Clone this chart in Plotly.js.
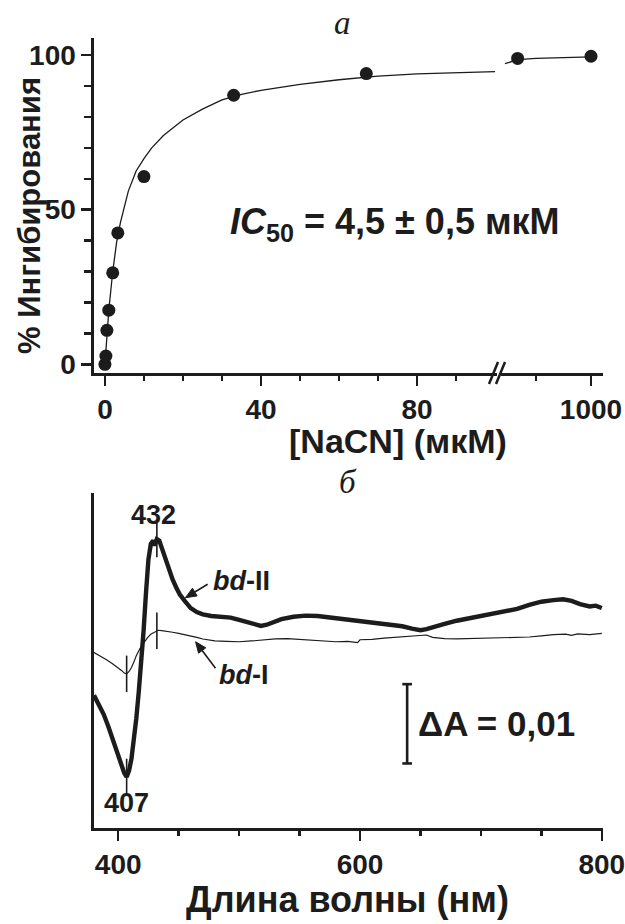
<!DOCTYPE html>
<html>
<head>
<meta charset="utf-8">
<script src="https://cdn.plot.ly/plotly-3.0.1.min.js"></script>
<style>html,body{margin:0;padding:0;background:#fff;}#chart{width:625px;height:924px;}</style>
</head>
<body>
<div id="chart"></div>
<script>
// ---------- Panel a: inhibition by NaCN ----------
const concLow = [0, 0.25, 0.5, 1, 2, 3.3, 10, 33, 67];          // мкМ
const inhibLow = [0, 2.7, 11, 17.5, 29.6, 42.5, 60.7, 87, 94];   // %
const concHigh = [333, 1000];
const inhibHigh = [98.9, 99.6];
const fitConcLow = [0, 0.5, 1, 2, 3, 4, 5, 6, 8, 10, 12, 15, 20, 25, 30, 35, 40, 50, 60, 70, 80, 90, 100];
const fitInhibLow = [0, 9, 17.5, 30, 39.5, 46, 51.5, 56, 62.5, 66.5, 70, 74, 79, 82.5, 85.5, 87.3, 88.6, 90.5, 92, 93.2, 93.9, 94.3, 94.6];
const fitConcHigh = [218, 333, 500, 700, 1000];
const fitInhibHigh = [97.2, 98.5, 98.9, 99.1, 99.4];
const xTicksLow = [0, 40, 80];
const xMinorLow = [10, 20, 30, 50, 60, 70, 90];
const xTicksHigh = [1000];
const xMinorHigh = [500];
const yTicksA = [0, 50, 100];

// ---------- Panel б: difference spectra (ΔA × 10^3) ----------
const wlII = [380,384,388,392,396,400,403,405,407,409,411,413,415,417,419,421,423,425,427,429,430,431,432,434,436,438,440,442,445,448,451,455,460,465,470,477,485,493,500,507,513,518,523,528,535,545,555,565,575,585,595,605,615,625,635,643,650,655,660,670,680,690,700,710,720,730,740,750,760,768,775,782,790,795,800];
const dAII = [-7.6,-8.8,-10.0,-11.6,-13.4,-15.2,-16.6,-17.4,-17.9,-17.1,-15.6,-13.3,-10.5,-7.2,-3.9,0.5,5.3,9.5,11.5,11.9,11.3,11.8,12.1,11.9,11.0,10.0,9.0,8.1,7.0,6.0,5.1,4.3,3.4,2.9,2.6,2.4,2.3,2.2,1.9,1.6,1.3,1.15,1.3,1.6,2.0,2.3,2.45,2.4,2.2,2.0,1.8,1.6,1.45,1.3,1.1,0.8,0.6,0.75,1.0,1.4,1.8,2.1,2.4,2.6,2.9,3.3,3.8,4.2,4.4,4.5,4.3,3.9,3.6,3.7,3.4];
const wlI = [380,385,390,395,400,403,405,407,409,411,413,415,418,421,424,427,430,433,436,440,445,450,455,460,465,470,475,480,490,500,510,520,530,540,550,560,570,580,590,598,600,610,620,630,640,650,655,660,670,680,690,700,710,720,730,740,750,760,770,775,780,790,800];
const dAI = [-2.2,-2.6,-3.1,-3.6,-4.1,-4.5,-4.8,-4.9,-4.6,-4.1,-3.4,-2.6,-1.7,-1.0,-0.4,0.1,0.4,0.6,0.55,0.5,0.35,0.2,0.05,-0.1,-0.3,-0.5,-0.65,-0.75,-0.8,-0.85,-0.75,-0.6,-0.5,-0.45,-0.55,-0.7,-0.8,-0.85,-0.8,-0.95,-0.6,-0.55,-0.4,-0.3,-0.2,-0.05,0.0,-0.3,-0.45,-0.5,-0.45,-0.4,-0.4,-0.35,-0.3,-0.25,-0.1,0.05,0.1,-0.05,0.15,0.05,0.2];
const peakWl = [407, 432];
const scaleBar = 10;   // ΔA = 0,01
const xTicksB = [400, 600, 800];

// ---------- helpers ----------
const W = 625, H = 924;
const px = v => v / W;
const py = v => 1 - v / H;
function interp(xs, ys, x) {
  for (let i = 0; i < xs.length - 1; i++) {
    if (x >= xs[i] && x <= xs[i + 1]) {
      const t = (x - xs[i]) / (xs[i + 1] - xs[i]);
      return ys[i] + t * (ys[i + 1] - ys[i]);
    }
  }
  return ys[ys.length - 1];
}
// panel б frame (pixels) and ranges, used to build arrowheads
const B = {x0: 94, x1: 603, y0: 493, y1: 828, xr: [380, 801], yr: [-24.34, 17.91]};
const toPx = (x, y) => [B.x0 + (x - B.xr[0]) / (B.xr[1] - B.xr[0]) * (B.x1 - B.x0),
                        B.y1 - (y - B.yr[0]) / (B.yr[1] - B.yr[0]) * (B.y1 - B.y0)];
const toData = (X, Y) => [B.xr[0] + (X - B.x0) / (B.x1 - B.x0) * (B.xr[1] - B.xr[0]),
                          B.yr[0] + (B.y1 - Y) / (B.y1 - B.y0) * (B.yr[1] - B.yr[0])];
function arrow(tail, tip) {
  const [tx, ty] = toPx(tail[0], tail[1]);
  const [hx, hy] = toPx(tip[0], tip[1]);
  const L = Math.hypot(hx - tx, hy - ty), ux = (hx - tx) / L, uy = (hy - ty) / L;
  const len = 11, hw = 4.5;
  const bx = hx - ux * len, by = hy - uy * len;
  const p1 = toData(bx - uy * hw, by + ux * hw), p2 = toData(bx + uy * hw, by - ux * hw);
  const base = toData(bx, by);
  return [
    {type: 'line', xref: 'x3', yref: 'y3', x0: tail[0], y0: tail[1], x1: base[0], y1: base[1], line: {color: INK, width: 1.6}},
    {type: 'path', xref: 'x3', yref: 'y3', path: `M ${tip[0]} ${tip[1]} L ${p1[0]} ${p1[1]} L ${p2[0]} ${p2[1]} Z`,
     fillcolor: INK, line: {color: INK, width: 1}}
  ];
}

const FONT = 'Liberation Sans, Arial, sans-serif';
const INK = '#1c1c1c';
const tickFont = {family: FONT, size: 28, color: INK, weight: 'bold'};

const traces = [
  {x: fitConcLow, y: fitInhibLow, xaxis: 'x', yaxis: 'y', mode: 'lines', line: {color: INK, width: 1.3}, hoverinfo: 'skip'},
  {x: fitConcHigh, y: fitInhibHigh, xaxis: 'x2', yaxis: 'y', mode: 'lines', line: {color: INK, width: 1.3}, hoverinfo: 'skip'},
  {x: concLow, y: inhibLow, xaxis: 'x', yaxis: 'y', mode: 'markers', marker: {color: INK, size: 13}, cliponaxis: false},
  {x: concHigh, y: inhibHigh, xaxis: 'x2', yaxis: 'y', mode: 'markers', marker: {color: INK, size: 13}, cliponaxis: false},
  {x: wlI, y: dAI, xaxis: 'x3', yaxis: 'y3', mode: 'lines', line: {color: INK, width: 1.2}, name: 'bd-I'},
  {x: wlII, y: dAII, xaxis: 'x3', yaxis: 'y3', mode: 'lines', line: {color: INK, width: 4.4}, name: 'bd-II'}
];

const shapes = [];
// axis break marks "//"
shapes.push({type: 'line', xref: 'paper', yref: 'paper', x0: px(489), y0: py(384), x1: px(498), y1: py(362), line: {color: INK, width: 2.5}});
shapes.push({type: 'line', xref: 'paper', yref: 'paper', x0: px(496), y0: py(384), x1: px(505), y1: py(362), line: {color: INK, width: 2.5}});
// peak marks on the spectra
[[wlI, dAI], [wlII, dAII]].forEach(([xs, ys]) => {
  peakWl.forEach(w => {
    const v = interp(xs, ys, w);
    shapes.push({type: 'line', xref: 'x3', yref: 'y3', x0: w, x1: w, y0: v - 2.3, y1: v + 2.3, line: {color: INK, width: 1.6}});
  });
});
// scale bar ΔA = 0,01
const sbX = 639, sbTop = -6.2;
shapes.push({type: 'line', xref: 'x3', yref: 'y3', x0: sbX, x1: sbX, y0: sbTop, y1: sbTop - scaleBar, line: {color: INK, width: 2.6}});
shapes.push({type: 'line', xref: 'x3', yref: 'y3', x0: sbX - 4, x1: sbX + 4, y0: sbTop, y1: sbTop, line: {color: INK, width: 2.6}});
shapes.push({type: 'line', xref: 'x3', yref: 'y3', x0: sbX - 4, x1: sbX + 4, y0: sbTop - scaleBar, y1: sbTop - scaleBar, line: {color: INK, width: 2.6}});
// arrows from the labels to the curves
shapes.push(...arrow([474, 6.4], [455.6, 4.7]));
shapes.push(...arrow([480.5, -4.2], [464, -0.85]));

const annotations = [
  {xref: 'paper', yref: 'paper', x: px(342), y: py(23), text: 'а', showarrow: false,
   font: {family: 'Liberation Serif, Times New Roman, serif', size: 33, color: INK, style: 'italic'}, xanchor: 'center', yanchor: 'middle'},
  {xref: 'paper', yref: 'paper', x: px(348), y: py(482), text: 'б', showarrow: false,
   font: {family: 'Liberation Serif, Times New Roman, serif', size: 33, color: INK, style: 'italic'}, xanchor: 'center', yanchor: 'middle'},
  {xref: 'paper', yref: 'paper', x: px(398), y: py(441), text: '[NaCN] (мкМ)', showarrow: false,
   font: {family: FONT, size: 34, color: INK, weight: 'bold'}, xanchor: 'center', yanchor: 'middle'},
  {xref: 'paper', yref: 'paper', x: px(30), y: py(216), text: '% Ингибирования', showarrow: false, textangle: -90,
   font: {family: FONT, size: 31, color: INK, weight: 'bold'}, xanchor: 'center', yanchor: 'middle'},
  {xref: 'paper', yref: 'paper', x: px(347), y: py(899), text: 'Длина волны (нм)', showarrow: false,
   font: {family: FONT, size: 36, color: INK, weight: 'bold'}, xanchor: 'center', yanchor: 'middle'},
  {xref: 'paper', yref: 'paper', x: px(228), y: py(224), text: '<i>IC</i><sub>50</sub> = 4,5 ± 0,5 мкМ', showarrow: false,
   font: {family: FONT, size: 36, color: INK, weight: 'bold'}, xanchor: 'left', yanchor: 'middle'},
  {xref: 'x3', yref: 'y3', x: 429, y: 15.1, text: '432', showarrow: false,
   font: {family: FONT, size: 27, color: INK, weight: 'bold'}, xanchor: 'center', yanchor: 'middle'},
  {xref: 'x3', yref: 'y3', x: 406.5, y: -21.2, text: '407', showarrow: false,
   font: {family: FONT, size: 27, color: INK, weight: 'bold'}, xanchor: 'center', yanchor: 'middle'},
  {xref: 'x3', yref: 'y3', x: 477, y: 6.8, text: '<i>bd</i>-II', showarrow: false,
   font: {family: FONT, size: 27, color: INK, weight: 'bold'}, xanchor: 'left', yanchor: 'middle'},
  {xref: 'x3', yref: 'y3', x: 482, y: -5.0, text: '<i>bd</i>-I', showarrow: false,
   font: {family: FONT, size: 27, color: INK, weight: 'bold'}, xanchor: 'left', yanchor: 'middle'},
  {xref: 'x3', yref: 'y3', x: sbX + 7, y: sbTop - scaleBar / 2, text: 'ΔA = 0,01', showarrow: false,
   font: {family: FONT, size: 35, color: INK, weight: 'bold'}, xanchor: 'left', yanchor: 'middle'}
];

const axisBase = {showline: true, linewidth: 2.6, linecolor: INK, ticks: 'outside', tickwidth: 2.4, tickcolor: INK,
  ticklen: 10, showgrid: false, zeroline: false, tickfont: tickFont, fixedrange: true, ticklabeloverflow: 'allow'};

const layout = {
  width: W, height: H, margin: {l: 0, r: 0, t: 0, b: 0},
  paper_bgcolor: '#fff', plot_bgcolor: '#fff', showlegend: false,
  xaxis: Object.assign({}, axisBase, {domain: [px(94), px(497)], range: [-2.8, 100.5], anchor: 'y',
    tickmode: 'array', tickvals: xTicksLow, ticktext: xTicksLow.map(String),
    minor: {tickmode: 'array', tickvals: xMinorLow, ticklen: 5, tickwidth: 2.4, tickcolor: INK, ticks: 'outside'}}),
  xaxis2: Object.assign({}, axisBase, {domain: [px(501), px(603)], range: [182, 1109], anchor: 'y',
    tickmode: 'array', tickvals: xTicksHigh, ticktext: xTicksHigh.map(String),
    minor: {tickmode: 'array', tickvals: xMinorHigh, ticklen: 5, tickwidth: 2.4, tickcolor: INK, ticks: 'outside'}}),
  yaxis: Object.assign({}, axisBase, {domain: [py(373), py(38)], range: [-2.8, 105.5], anchor: 'x',
    tickmode: 'array', tickvals: yTicksA, ticktext: yTicksA.map(String),
    minor: {dtick: 10, tick0: 0, ticklen: 7, tickwidth: 2.4, tickcolor: INK, ticks: 'outside'}}),
  xaxis3: Object.assign({}, axisBase, {domain: [px(B.x0), px(B.x1)], range: B.xr, anchor: 'y3',
    tickmode: 'array', tickvals: xTicksB, ticktext: xTicksB.map(String),
    minor: {dtick: 50, tick0: 0, ticklen: 5, tickwidth: 2.4, tickcolor: INK, ticks: 'outside'}}),
  yaxis3: Object.assign({}, axisBase, {domain: [py(B.y1), py(B.y0)], range: B.yr, anchor: 'x3',
    ticks: '', showticklabels: false}),
  shapes: shapes,
  annotations: annotations
};

Plotly.newPlot('chart', traces, layout, {displayModeBar: false, staticPlot: true});
</script>
</body>
</html>
